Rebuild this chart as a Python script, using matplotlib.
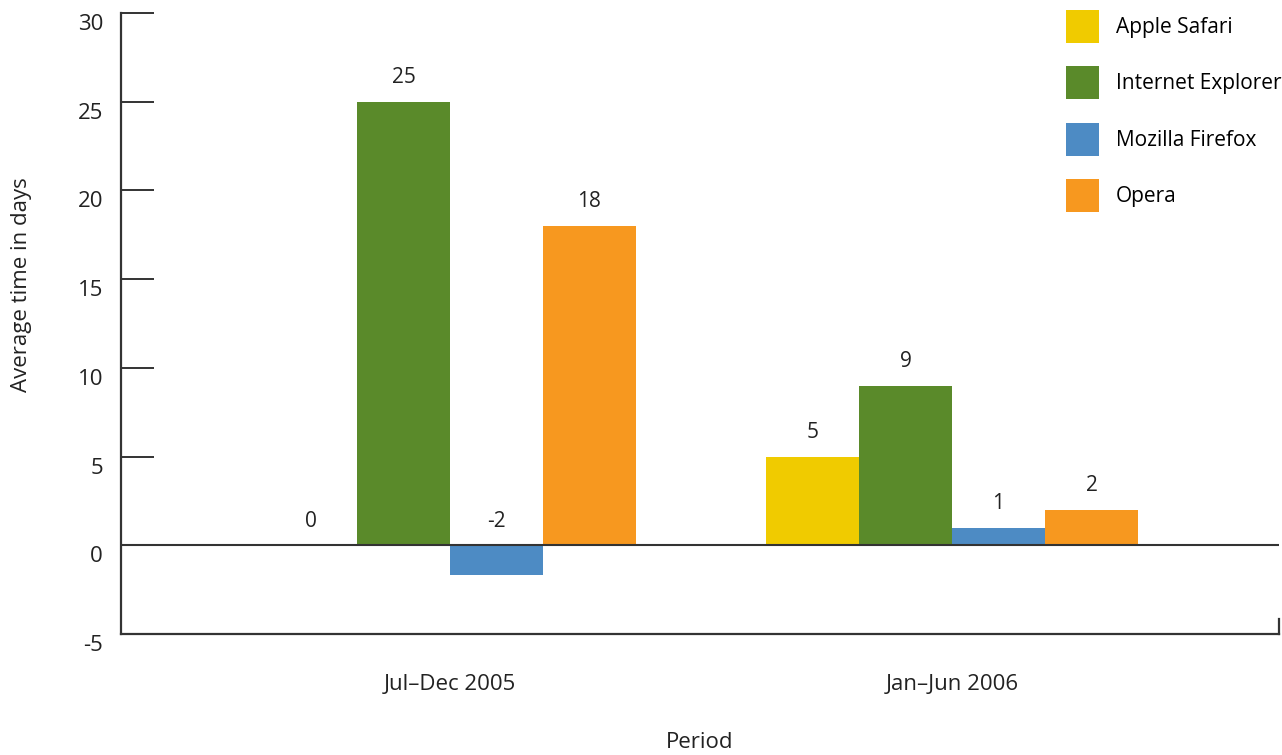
import matplotlib
matplotlib.use("Agg")
import matplotlib.pyplot as plt
import matplotlib.transforms as mtransforms
import numpy as np

plt.rcParams['font.family'] = ['Open Sans', 'DejaVu Sans']

periods = ["Jul\u2013Dec 2005", "Jan\u2013Jun 2006"]
browsers = ["Apple Safari", "Internet Explorer", "Mozilla Firefox", "Opera"]
safari = [0, 5]
ie = [25, 9]
firefox = [-1.7, 1]
opera = [18, 2]
value_labels = [["0", "5"], ["25", "9"], ["-2", "1"], ["18", "2"]]
colors = ["#F0CB00", "#5A8A2A", "#4D8BC4", "#F7981F"]
yticks = [-5, 0, 5, 10, 15, 20, 25, 30]

fig = plt.figure(figsize=(12.82, 7.55), dpi=100)
ax = fig.add_axes([121/1282, 1-634/755, (1279-121)/1282, (634-13)/755])

x = np.arange(len(periods))
w = 0.185
series = [safari, ie, firefox, opera]
for i, (vals, col) in enumerate(zip(series, colors)):
    pos = x + (i - 1.5) * w
    ax.bar(pos, vals, width=w, color=col, label=browsers[i], zorder=2)
    for p, v, lab in zip(pos, vals, value_labels[i]):
        ax.annotate(lab, (p, max(v, 0)), xytext=(0, 24), textcoords='offset pixels',
                    ha='center', va='center', fontsize=15, color='#222222')

ax.set_xlim(-0.655, 1.651)
ax.set_ylim(-5, 30)
ax.axhline(0, color='#333333', lw=1.5, zorder=3)

for s in ['top', 'right']:
    ax.spines[s].set_visible(False)
ax.spines['left'].set_linewidth(1.6)
ax.spines['bottom'].set_linewidth(1.6)
ax.spines['left'].set_color('#333333')
ax.spines['bottom'].set_color('#333333')
ax.plot([1, 1], [0, 15/621], transform=ax.transAxes, color='#333333', lw=1.6, clip_on=False)

ax.set_yticks(yticks)
ax.set_yticklabels([str(t) for t in yticks])
ax.tick_params(axis='y', direction='in', length=24, width=1.4, color='#333333',
               labelsize=16, pad=13, labelcolor='#222222')
offset = mtransforms.ScaledTranslation(0, -9/100, fig.dpi_scale_trans)
for lbl in ax.get_yticklabels():
    lbl.set_transform(lbl.get_transform() + offset)

ax.set_xticks(x)
ax.set_xticklabels(periods)
ax.tick_params(axis='x', length=0, pad=29, labelsize=16, labelcolor='#222222')

fig.text(22/1282, 1-285/755, "Average time in days", rotation=90, ha='center', va='center',
         fontsize=16, color='#222222')
fig.text(700/1282, 1-742/755, "Period", ha='center', va='center', fontsize=16, color='#222222')

leg = ax.legend(loc='upper left', bbox_to_anchor=(1066/1282, 1-10/755), bbox_transform=fig.transFigure,
                frameon=False, fontsize=15, handlelength=1.58, handleheight=2.06,
                labelspacing=1.12, handletextpad=0.8, borderpad=0, borderaxespad=0)

fig.savefig("out.png", dpi=100)
